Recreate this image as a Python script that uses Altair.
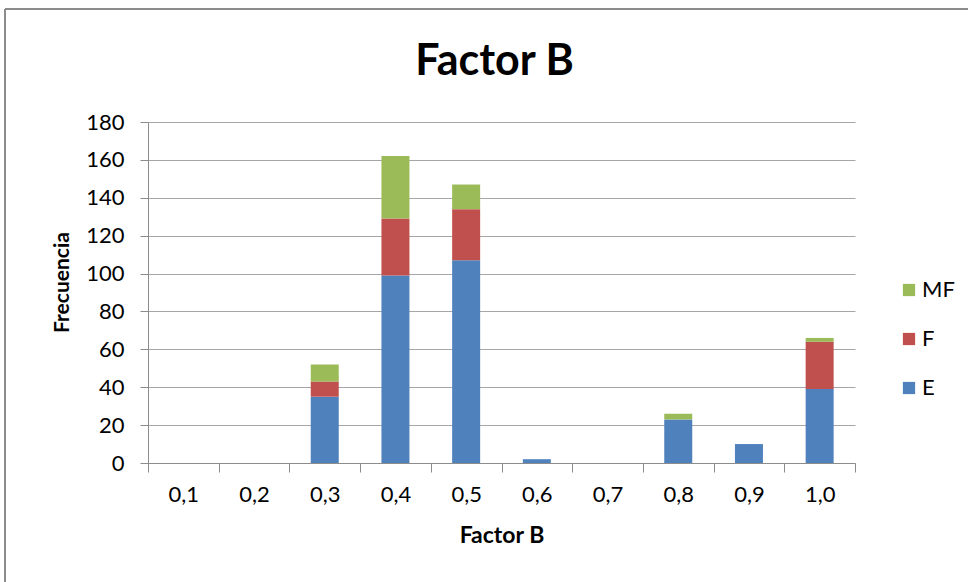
import altair as alt
import pandas as pd

categories = ["0,1", "0,2", "0,3", "0,4", "0,5", "0,6", "0,7", "0,8", "0,9", "1,0"]
E = [0, 0, 35, 99, 107, 2, 0, 23, 10, 39]
F = [0, 0, 8, 30, 27, 0, 0, 0, 0, 25]
MF = [0, 0, 9, 33, 13, 0, 0, 3, 0, 2]

series = ["MF", "F", "E"]
colors = ["#9BBB59", "#C0504D", "#4F81BD"]
stack_order = {"E": 0, "F": 1, "MF": 2}

rows = []
for i, c in enumerate(categories):
    for name, vals in (("E", E), ("F", F), ("MF", MF)):
        rows.append({"cat": c, "serie": name, "val": vals[i], "ord": stack_order[name]})
df = pd.DataFrame(rows)

FONT = "Lato"
W, H = 707, 341

bars = alt.Chart(df).mark_bar(size=28).encode(
    x=alt.X("cat:N", sort=categories, title="Factor B",
            scale=alt.Scale(paddingInner=0, paddingOuter=0),
            axis=alt.Axis(labelAngle=0, tickBand="extent", labelFontSize=22,
                          titleFontSize=23, titleFontWeight="bold", labelPadding=12,
                          titlePadding=19, tickSize=9, grid=False)),
    y=alt.Y("val:Q", stack="zero", title="Frecuencia",
            scale=alt.Scale(domain=[0, 180], nice=False),
            axis=alt.Axis(values=list(range(0, 181, 20)), labelFontSize=22,
                          titleFontSize=21, titleFontWeight="bold", tickSize=8,
                          labelPadding=16, titlePadding=13, titleY=160)),
    color=alt.Color("serie:N", scale=alt.Scale(domain=series, range=colors),
                    legend=alt.Legend(title=None, orient="none", legendX=750, legendY=157,
                                      symbolType="square", symbolSize=150,
                                      symbolStrokeWidth=0, labelFontSize=22,
                                      rowPadding=27, labelOffset=2)),
    order=alt.Order("ord:Q", sort="ascending"),
)

border_top = alt.Chart(df).mark_rule(color="#8C8C8C", strokeWidth=2).encode(
    x=alt.value(-143), x2=alt.value(830), y=alt.value(-113))
border_left = alt.Chart(df).mark_rule(color="#8C8C8C", strokeWidth=2).encode(
    x=alt.value(-143), y=alt.value(-113), y2=alt.value(470))

chart = alt.layer(bars, border_top, border_left).properties(
    width=W, height=H,
    title=alt.TitleParams("Factor B", fontSize=43, fontWeight="bold", font=FONT,
                          color="#000000", anchor="middle", baseline="alphabetic",
                          offset=-110, dx=-7),
    autosize=alt.AutoSizeParams(type="none"),
    padding={"left": 148, "top": 122, "right": 113, "bottom": 119},
).configure(font=FONT, background="white").configure_view(stroke=None).configure_axis(
    domainColor="#8C8C8C", tickColor="#8C8C8C", gridColor="#A6A6A6",
    labelColor="#000000", titleColor="#000000", labelFont=FONT, titleFont=FONT,
).configure_legend(labelFont=FONT, labelColor="#000000")

chart.save("out.html", embed_options={"renderer": "svg", "actions": False})
